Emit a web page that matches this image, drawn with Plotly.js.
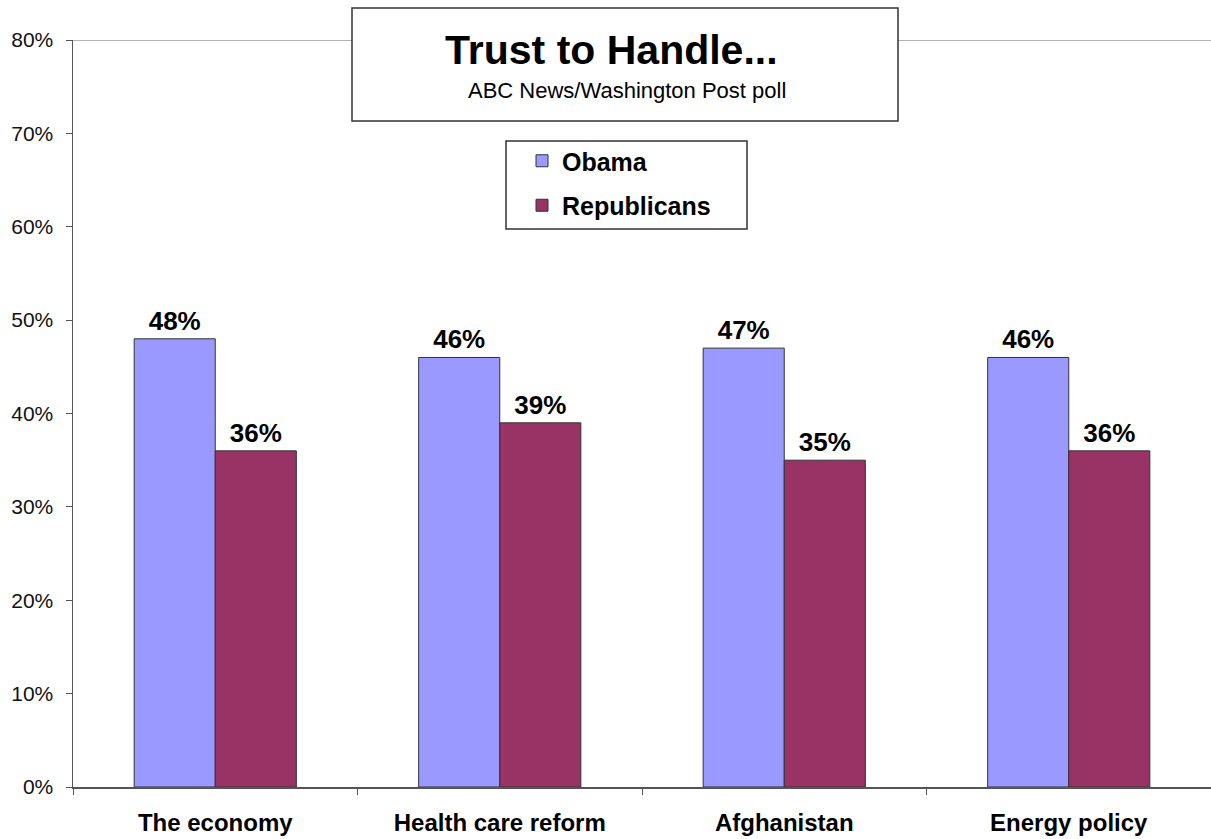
<!DOCTYPE html>
<html>
<head>
<meta charset="utf-8">
<script src="https://cdn.plot.ly/plotly-3.0.1.min.js"></script>
<style>html,body{margin:0;padding:0;background:#fff}#chart{width:1211px;height:839px}</style>
</head>
<body>
<div id="chart"></div>
<script>
const categories = ["The economy", "Health care reform", "Afghanistan", "Energy policy"];
const obama = [48, 46, 47, 46];
const republicans = [36, 39, 35, 36];
const seriesNames = ["Obama", "Republicans"];
const titleText = "Trust to Handle...";
const subtitleText = "ABC News/Washington Post poll";

const W = 1211, H = 839;
const L = 73, R = 0, T = 40, B = 52;
const px = x => (x - L) / (W - L - R);
const py = y => (H - B - y) / (H - T - B);

const FAM = "Liberation Sans, Arial, sans-serif";
const labelFont = {family: FAM, size: 26, color: "#000", weight: "bold"};

const traces = [
  {type: "bar", name: seriesNames[0], x: categories, y: obama, legendgroup: "a",
   marker: {color: "#9999FF", line: {color: "#333", width: 1}},
   text: obama.map(v => v + "%"), textposition: "outside", textfont: labelFont, cliponaxis: false},
  {type: "bar", name: seriesNames[1], x: categories, y: republicans, legendgroup: "b",
   marker: {color: "#993366", line: {color: "#333", width: 1}},
   text: republicans.map(v => v + "%"), textposition: "outside", textfont: labelFont, cliponaxis: false}
];

const layout = {
  width: W, height: H,
  margin: {l: L, r: R, t: T, b: B, pad: 0},
  paper_bgcolor: "#fff", plot_bgcolor: "#fff",
  barmode: "group", bargap: 0.43, bargroupgap: 0,
  font: {family: FAM},
  xaxis: {
    type: "category", showgrid: false, showline: true, linecolor: "#555", linewidth: 1.5,
    ticks: "outside", ticklen: 6, tickcolor: "#555", tickson: "boundaries",
    ticklabelstandoff: 14,
    tickfont: {family: FAM, size: 24, color: "#000", weight: "bold"},
    automargin: false
  },
  yaxis: {
    range: [0, 80], dtick: 10, ticksuffix: "%", showgrid: false, zeroline: false,
    showline: true, linecolor: "#555", linewidth: 1.5, ticks: "outside", ticklen: 6, tickcolor: "#555",
    ticklabelstandoff: 8,
    tickfont: {family: FAM, size: 21, color: "#111"},
    automargin: false
  },
  showlegend: true,
  legend: {
    x: px(522), y: py(138), xanchor: "left", yanchor: "top",
    bgcolor: "rgba(0,0,0,0)", borderwidth: 0, tracegroupgap: 9,
    font: {family: FAM, size: 25, color: "#000", weight: "bold"}
  },
  shapes: [
    {type: "line", xref: "paper", yref: "y", x0: 0, x1: 1, y0: 80, y1: 80,
     line: {color: "#999", width: 1.5}, layer: "below"},
    {type: "rect", xref: "paper", yref: "paper", x0: px(352), x1: px(898), y0: py(121), y1: py(8),
     fillcolor: "#fff", line: {color: "#333", width: 1.5}, layer: "above"},
    {type: "rect", xref: "paper", yref: "paper", x0: px(506), x1: px(747), y0: py(229), y1: py(141),
     fillcolor: "#fff", line: {color: "#333", width: 1.5}, layer: "below"}
  ],
  annotations: [
    {xref: "paper", yref: "paper", x: px(611), y: py(50), text: titleText, showarrow: false,
     xanchor: "center", yanchor: "middle",
     font: {family: FAM, size: 41, color: "#000", weight: "bold"}},
    {xref: "paper", yref: "paper", x: px(627), y: py(91), text: subtitleText, showarrow: false,
     xanchor: "center", yanchor: "middle",
     font: {family: FAM, size: 22, color: "#000"}}
  ]
};

Plotly.newPlot("chart", traces, layout, {displayModeBar: false, staticPlot: true});
</script>
</body>
</html>
